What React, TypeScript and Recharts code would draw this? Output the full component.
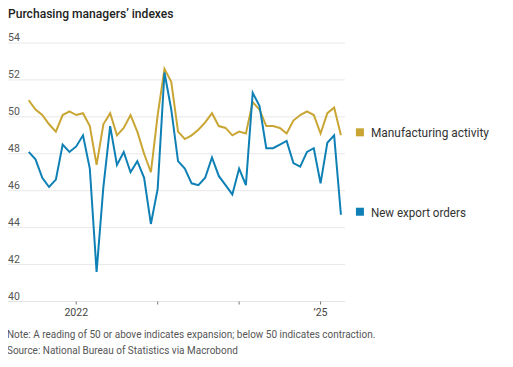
import React from 'react';
import { LineChart, Line, XAxis, YAxis, CartesianGrid } from 'recharts';

// monthly, Jun 2021 – Apr 2025
const MONTHS = [
  '2021-06', '2021-07', '2021-08', '2021-09', '2021-10', '2021-11', '2021-12',
  '2022-01', '2022-02', '2022-03', '2022-04', '2022-05', '2022-06', '2022-07', '2022-08', '2022-09', '2022-10', '2022-11', '2022-12',
  '2023-01', '2023-02', '2023-03', '2023-04', '2023-05', '2023-06', '2023-07', '2023-08', '2023-09', '2023-10', '2023-11', '2023-12',
  '2024-01', '2024-02', '2024-03', '2024-04', '2024-05', '2024-06', '2024-07', '2024-08', '2024-09', '2024-10', '2024-11', '2024-12',
  '2025-01', '2025-02', '2025-03', '2025-04',
];

const MANUFACTURING = [
  50.9, 50.4, 50.1, 49.6, 49.2, 50.1, 50.3,
  50.1, 50.2, 49.5, 47.4, 49.6, 50.2, 49.0, 49.4, 50.1, 49.2, 48.0, 47.0,
  50.1, 52.6, 51.9, 49.2, 48.8, 49.0, 49.3, 49.7, 50.2, 49.5, 49.4, 49.0,
  49.2, 49.1, 50.8, 50.4, 49.5, 49.5, 49.4, 49.1, 49.8, 50.1, 50.3, 50.1,
  49.1, 50.2, 50.5, 49.0,
];

const EXPORT_ORDERS = [
  48.1, 47.7, 46.7, 46.2, 46.6, 48.5, 48.1,
  48.4, 49.0, 47.2, 41.6, 46.2, 49.5, 47.4, 48.1, 47.0, 47.6, 46.7, 44.2,
  46.1, 52.4, 50.4, 47.6, 47.2, 46.4, 46.3, 46.7, 47.8, 46.8, 46.3, 45.8,
  47.2, 46.3, 51.3, 50.6, 48.3, 48.3, 48.5, 48.7, 47.5, 47.3, 48.1, 48.3,
  46.4, 48.6, 49.0, 44.7,
];

const Y_TICKS = [40, 42, 44, 46, 48, 50, 52, 54];
const X_TICKS = ['2022-01', '2023-01', '2024-01', '2025-01'];
const X_TICK_LABELS = ['2022', '', '', '\u201925'];

const data = MONTHS.map((m, i) => ({
  i,
  month: m,
  manufacturing: MANUFACTURING[i],
  exports: EXPORT_ORDERS[i],
}));

const FONT = 'Roboto, "Noto Sans", sans-serif';
const GOLD = '#c9a634';
const BLUE = '#0e80b5';

const EndLabel = ({ x, y, index, text, color, width }: any) => {
  if (index !== MONTHS.length - 1) return null;
  return (
    <g>
      <rect x={x + 15} y={y - 7} width={8} height={8} fill={color} />
      <text
        x={x + 30}
        y={y + 2}
        fontSize={13}
        fill="#333"
        fontFamily={FONT}
        textLength={width}
        lengthAdjust="spacingAndGlyphs"
      >
        {text}
      </text>
    </g>
  );
};

const YTick = ({ y, payload }: any) => (
  <text x={8} y={y - 2} fontSize={10.5} fill="#555" fontFamily={FONT}>
    {payload.value}
  </text>
);

export default function App() {
  const xTicks = X_TICKS.map((t) => MONTHS.indexOf(t));

  const XTick = ({ x, y, payload }: any) => {
    const label = X_TICK_LABELS[xTicks.indexOf(payload.value)] ?? '';
    return (
      <text x={x} y={y + 9} textAnchor="middle" fontSize={10.5} fill="#444" fontFamily={FONT}>
        {label}
      </text>
    );
  };

  return (
    <div style={{ position: 'relative', width: 513, height: 367, margin: -8, fontFamily: FONT, background: '#fff' }}>
      <div
        style={{
          position: 'absolute', left: 8, top: 6, fontSize: 13, lineHeight: '16px', color: '#222',
          fontWeight: 500, whiteSpace: 'nowrap', transform: 'scaleX(0.93)', transformOrigin: 'left',
        }}
      >
        Purchasing managers’ indexes
      </div>
      <LineChart
        width={513}
        height={367}
        data={data}
        margin={{ top: 43, right: 168, bottom: 0, left: 7 }}
        style={{ position: 'absolute', left: 0, top: 0 }}
      >
        <CartesianGrid horizontal vertical={false} stroke="#e8e8e8" />
        <XAxis
          dataKey="i"
          type="number"
          domain={[-3.2, 46.6]}
          allowDataOverflow
          ticks={xTicks}
          interval={0}
          stroke="#e4e4e4"
          tickSize={3}
          tick={<XTick />}
          tickLine={{ stroke: '#777' }}
          height={65.5}
        />
        <YAxis
          domain={[40, 54]}
          ticks={Y_TICKS}
          interval={0}
          mirror
          width={1}
          axisLine={false}
          tickLine={false}
          tick={<YTick />}
        />
        <Line
          dataKey="manufacturing"
          stroke={GOLD}
          strokeWidth={2}
          dot={false}
          isAnimationActive={false}
          label={(p: any) => <EndLabel key={`m${p.index}`} {...p} text="Manufacturing activity" color={GOLD} width={118} />}
        />
        <Line
          dataKey="exports"
          stroke={BLUE}
          strokeWidth={2}
          dot={false}
          isAnimationActive={false}
          label={(p: any) => <EndLabel key={`e${p.index}`} {...p} text="New export orders" color={BLUE} width={95} />}
        />
      </LineChart>
      <div
        style={{
          position: 'absolute', left: 7, top: 327, fontSize: 10.5, color: '#555', lineHeight: '16px',
          whiteSpace: 'nowrap', transform: 'scaleX(0.95)', transformOrigin: 'left',
        }}
      >
        <div>Note: A reading of 50 or above indicates expansion; below 50 indicates contraction.</div>
        <div>Source: National Bureau of Statistics via Macrobond</div>
      </div>
    </div>
  );
}
